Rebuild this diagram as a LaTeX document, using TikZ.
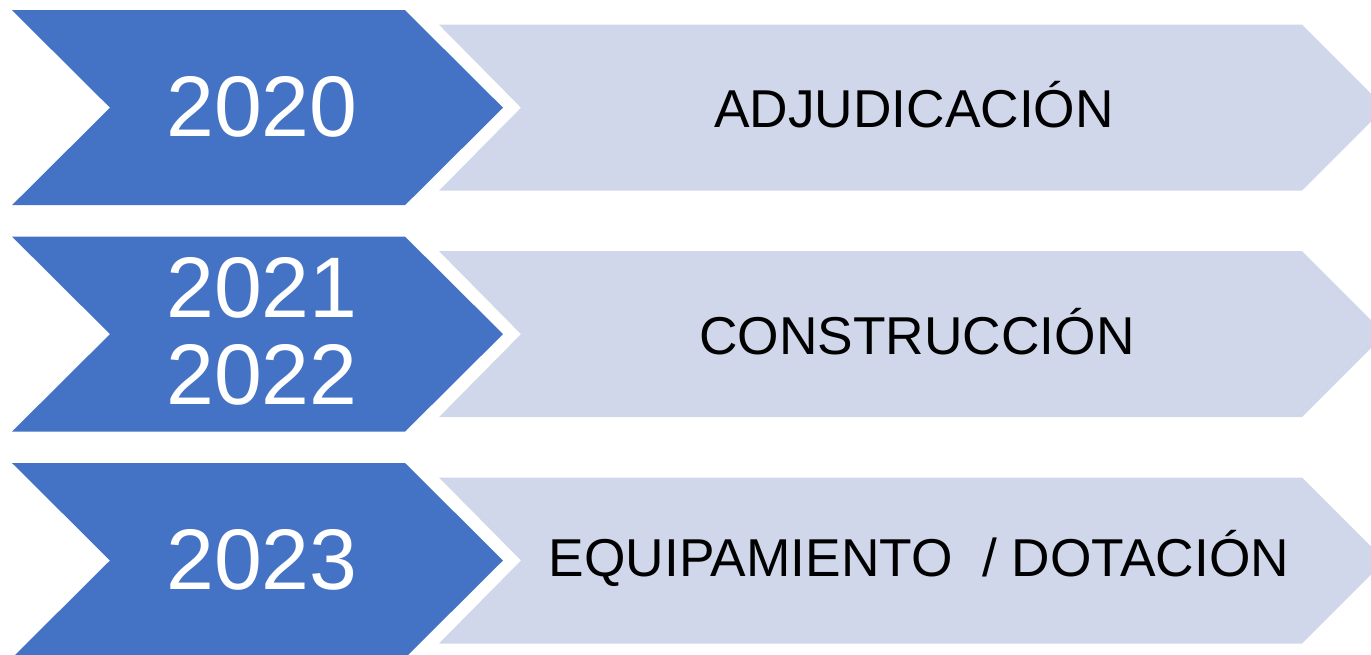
\documentclass[tikz,border=0pt]{standalone}
\usepackage{fontspec}
\setmainfont{Liberation Sans}
\definecolor{chevblue}{HTML}{4472C4}
\definecolor{chevlight}{HTML}{D0D7EA}
\begin{document}
\begin{tikzpicture}[x=1pt,y=-1pt,
  yearshape/.style={fill=chevblue},
  barshape/.style={fill=chevlight},
  yeartext/.style={text=white,font=\fontsize{86}{87}\selectfont,align=center,inner sep=0pt},
  labeltext/.style={text=black,font=\fontsize{53.3}{60}\selectfont,inner sep=0pt}]
\useasboundingbox (0,0) rectangle (1371,654);
\begin{scope}
\clip (0,0) rectangle (1371,654);
\foreach \c in {107.7,334.1,560.5}{
  \fill[barshape] (439,\c-83) -- (1302,\c-83) -- (1385,\c) -- (1302,\c+83) -- (439,\c+83) -- (521,\c) -- cycle;
  \fill[yearshape] (12,\c-97.5) -- (405,\c-97.5) -- (503,\c) -- (405,\c+97.5) -- (12,\c+97.5) -- (110,\c) -- cycle;
}
\end{scope}
\node[yeartext] (y1) at (262,106.5) {2020};
\node[yeartext] (y2) at (262,331) {2021\\2022};
\node[yeartext] (y3) at (262,559.5) {2023};
\node[labeltext] (l1) at (914,105) {ADJUDICACIÓN};
\node[labeltext] (l2) at (917,331.5) {CONSTRUCCIÓN};
\node[labeltext] (l3) at (919,558) {EQUIPAMIENTO\ \ / DOTACIÓN};
\end{tikzpicture}
\end{document}
